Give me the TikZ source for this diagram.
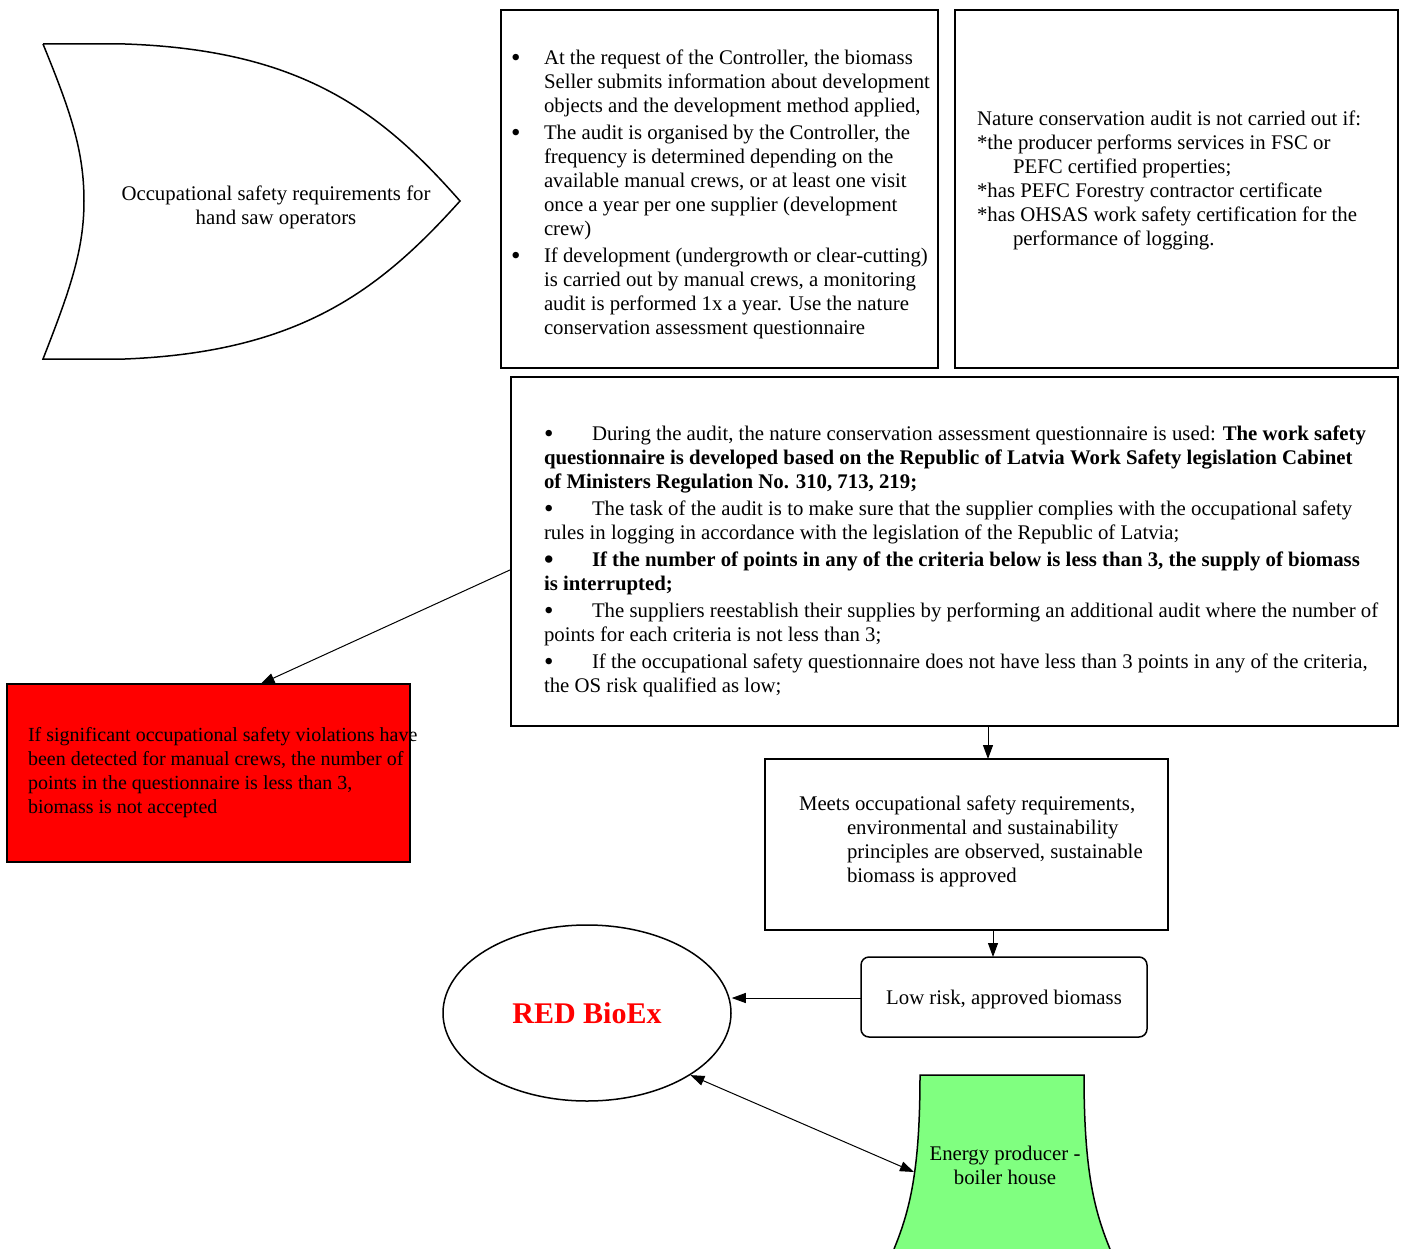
\documentclass[tikz,border=0pt]{standalone}
\usepackage{fontspec}
\setmainfont{Liberation Serif}
\usetikzlibrary{arrows.meta,shapes.geometric}
\newcommand{\bul}{\raisebox{-1.5pt}{\fontsize{27}{24}\selectfont\textbullet}}
\begin{document}
\begin{tikzpicture}[x=1pt,y=-1pt,
  frame/.style={draw, line width=1.5pt, inner sep=0pt, outer sep=0pt},
  txt/.style={inner sep=0pt, outer sep=0pt, align=left, anchor=north west, font=\fontsize{20.8}{24}\selectfont},
  ctxt/.style={inner sep=0pt, outer sep=0pt, align=center, font=\fontsize{20.8}{24}\selectfont},
  arr/.style={-{Triangle[length=14pt,width=10pt]}, line width=1pt},
  darr/.style={{Triangle[length=14pt,width=10pt]}-{Triangle[length=14pt,width=10pt]}, line width=1pt},
]
\useasboundingbox (0,0) rectangle (1405,1249);
\fill[white] (0,0) rectangle (1405,1249);

% shield shape
\draw[line width=1.5pt] (43,44) -- (125,44) .. controls (300,50) and (380,110) .. (460,201)
  .. controls (380,290) and (300,352) .. (125,359) -- (43,359)
  .. controls (70,290) and (84,250) .. (84,201) .. controls (84,150) and (70,110) .. (43,44);
\node[ctxt] (req) at (276,207) {Occupational safety requirements for\\hand saw operators};

% box 2
\node[frame, minimum width=437pt, minimum height=358pt] (a2) at (719.5,189) {};
\node[txt] (a2t) at (511,48) {\strut\makebox[33pt][l]{\bul}At the request of the Controller, the biomass\\
\hspace*{33pt}Seller submits information about development\\
\hspace*{33pt}objects and the development method applied,\\[3pt]
\makebox[33pt][l]{\bul}The audit is organised by the Controller, the\\
\hspace*{33pt}frequency is determined depending on the\\
\hspace*{33pt}available manual crews, or at least one visit\\
\hspace*{33pt}once a year per one supplier (development\\
\hspace*{33pt}crew)\\[3pt]
\makebox[33pt][l]{\bul}If development (undergrowth or clear-cutting)\\
\hspace*{33pt}is carried out by manual crews, a monitoring\\
\hspace*{33pt}audit is performed 1x a year. Use the nature\\
\hspace*{33pt}conservation assessment questionnaire};

% box 3
\node[frame, minimum width=443pt, minimum height=358pt] (a3) at (1176.5,189) {};
\node[txt] (a3t) at (977,109) {\strut Nature conservation audit is not carried out if:\\
*the producer performs services in FSC or\\
\hspace*{36pt}PEFC certified properties;\\
*has PEFC Forestry contractor certificate\\
*has OHSAS work safety certification for the\\
\hspace*{36pt}performance of logging.};

% box 4
\node[frame, minimum width=887pt, minimum height=349pt] (a4) at (954.5,551.5) {};
\node[txt] (a4t) at (544,424) {\strut\makebox[48pt][l]{\bul}During the audit, the nature conservation assessment questionnaire is used: \textbf{The work safety}\\
\textbf{questionnaire is developed based on the Republic of Latvia Work Safety legislation Cabinet}\\
\textbf{of Ministers Regulation No. 310, 713, 219;}\\[3pt]
\makebox[48pt][l]{\bul}The task of the audit is to make sure that the supplier complies with the occupational safety\\
rules in logging in accordance with the legislation of the Republic of Latvia;\\[3pt]
\textbf{\makebox[48pt][l]{\bul}If the number of points in any of the criteria below is less than 3, the supply of biomass}\\
\textbf{is interrupted;}\\[3pt]
\makebox[48pt][l]{\bul}The suppliers reestablish their supplies by performing an additional audit where the number of\\
points for each criteria is not less than 3;\\[3pt]
\makebox[48pt][l]{\bul}If the occupational safety questionnaire does not have less than 3 points in any of the criteria,\\
the OS risk qualified as low;};

% red box
\node[frame, fill=red, minimum width=403pt, minimum height=178pt] (red) at (208.5,773) {};
\node[txt, font=\fontsize{20}{24}\selectfont] (redt) at (28,725) {\strut If significant occupational safety violations have\\
been detected for manual crews, the number of\\
points in the questionnaire is less than 3,\\
biomass is not accepted};

% box 6
\node[frame, minimum width=403pt, minimum height=171pt] (a6) at (966.5,844.5) {};
\node[txt] (a6t) at (799,794) {\strut Meets occupational safety requirements,\\
\hspace*{48pt}environmental and sustainability\\
\hspace*{48pt}principles are observed, sustainable\\
\hspace*{48pt}biomass is approved};

% low risk
\node[frame, rounded corners=8pt, minimum width=286pt, minimum height=80pt, text height=18pt, text depth=4pt, font=\fontsize{20.8}{24}\selectfont] (low) at (1004,997) {Low risk, approved biomass};

% RED BioEx
\node[draw, line width=1.5pt, ellipse, inner sep=0pt, minimum width=288pt, minimum height=176pt, text=red, font=\fontsize{30}{32}\selectfont\bfseries] (bio) at (587,1013) {RED BioEx};

% energy producer
\fill[fill={rgb,255:red,128;green,255;blue,128}] (920,1075) -- (1084,1075) .. controls (1084,1170) and (1094,1210) .. (1110,1249)
  -- (894,1249) .. controls (910,1210) and (920,1170) .. (920,1075) -- cycle;
\draw[line width=1.5pt] (894,1249) .. controls (910,1210) and (920,1170) .. (920,1075) -- (1084,1075) .. controls (1084,1170) and (1094,1210) .. (1110,1249);
\node[ctxt] (ep) at (1005,1165) {Energy producer -\\boiler house};
\coordinate (epl) at (914,1172);

% connectors
\coordinate (x1) at (988,0);
\coordinate (x2) at (993,0);
\draw[arr] ([yshift=-18pt]a4.west) -- ([xshift=52pt]red.north);
\draw[arr] (a4.south -| x1) -- (a6.north -| x1);
\draw[arr] (a6.south -| x2) -- (low.north -| x2);
\draw[arr] ([yshift=-1pt]low.west) -- ([yshift=-1pt]low.west -| bio.east);
\draw[darr] (bio.-31) -- (epl);
\end{tikzpicture}
\end{document}
